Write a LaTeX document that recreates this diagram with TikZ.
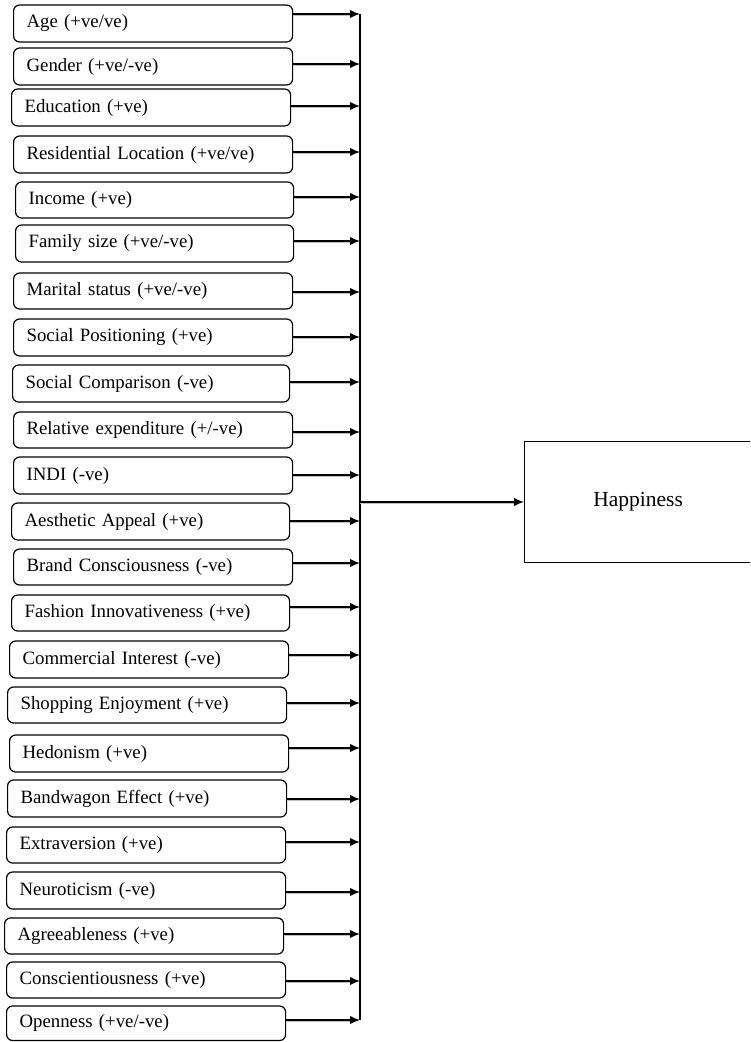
\documentclass[tikz,border=0pt]{standalone}
\usepackage{fontspec}
\setmainfont{Liberation Serif}
\usetikzlibrary{arrows.meta}
\tikzset{
  fbox/.style={draw, line width=1.2pt, rounded corners=6pt, anchor=west, inner xsep=13pt, inner ysep=0pt, align=left,
    font=\fontsize{18.8}{22}\selectfont},
  hbox/.style={draw, line width=1.2pt, anchor=north west, inner sep=0pt, minimum width=227pt, minimum height=121pt,
    font=\fontsize{21.5}{25}\selectfont},
  shaft/.style={-{Latex[length=10pt,width=8.5pt]}, line width=1.4pt,
    preaction={draw=black!25, line width=1.2pt, -, shorten >=5pt, transform canvas={yshift=-1.7pt}}},
  vline/.style={line width=1.4pt}
}
\begin{document}
\begin{tikzpicture}[x=1pt,y=-1pt]
\useasboundingbox (0,0) rectangle (751,1042);
\clip (0,0) rectangle (750.2,1042);
\foreach \i/\l/\r/\t/\b/\a/\txt in {
 1/13/292/5/42/14/{Age (+ve/ve)},
 2/13/292/48/85/64/{Gender (+ve/-ve)},
 3/11/290/89/126/106/{Education (+ve)},
 4/13/292/136/173/152/{Residential Location (+ve/ve)},
 5/15/293/182/218/197/{Income (+ve)},
 6/15/293/225/262/241/{Family size (+ve/-ve)},
 7/13/292/273/309/292/{Marital status (+ve/-ve)},
 8/13/292/319/356/337/{Social Positioning (+ve)},
 9/12/289/365/402/382/{Social Comparison (-ve)},
 10/13/292/412/448/432/{Relative expenditure (+/-ve)},
 11/13/292/457/494/475/{INDI (-ve)},
 12/11/289/503/540/521/{Aesthetic Appeal (+ve)},
 13/13/292/549/585/563/{Brand Consciousness (-ve)},
 14/11/289/595/631/607/{Fashion Innovativeness (+ve)},
 15/9/288/641/678/655/{Commercial Interest (-ve)},
 16/7/286/687/723/703/{Shopping Enjoyment (+ve)},
 17/9/288/735/772/748/{Hedonism (+ve)},
 18/7/286/780/817/799/{Bandwagon Effect (+ve)},
 19/6/285/827/863/842/{Extraversion (+ve)},
 20/6/285/872/909/892/{Neuroticism (-ve)},
 21/4/283/918/954/934/{Agreeableness (+ve)},
 22/6/285/962/998/981/{Conscientiousness (+ve)},
 23/6/285/1006/1040.5/1020/{Openness (+ve/-ve)}}{
  \pgfmathsetmacro\w{\r-\l-26}
  \pgfmathsetmacro\hh{\b-\t}
  \pgfmathsetmacro\cy{(\t+\b)/2}
  \node[fbox, text width=\w pt, minimum height=\hh pt] (b\i) at (\l,\cy) {\txt};
  \coordinate (t\i) at (360,\a);
  \draw[shaft] (b\i.east |- t\i) -- (t\i);
}
\draw[vline] (t1) -- (t23);
\node[hbox] (h) at (524,441) {Happiness};
\coordinate (j) at (360,502);
\draw[shaft] (j) -- (j -| h.west);
\end{tikzpicture}
\end{document}
